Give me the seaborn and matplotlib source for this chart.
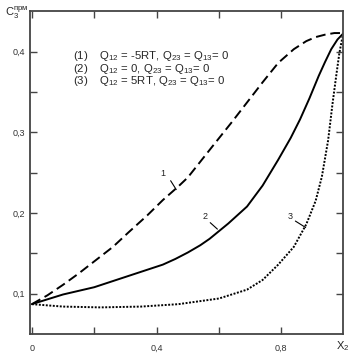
import matplotlib
matplotlib.use("Agg")
import matplotlib.pyplot as plt
import seaborn as sns
import pandas as pd

# curve 1: Q12 = -5RT
x1 = [0, 0.05, 0.1, 0.15, 0.2, 0.26, 0.31, 0.37, 0.42, 0.47, 0.5, 0.58, 0.64, 0.69, 0.74, 0.79, 0.84, 0.88, 0.91, 0.94, 0.97, 1.0]
y1 = [0.087, 0.098, 0.111, 0.125, 0.140, 0.158, 0.176, 0.197, 0.216, 0.233, 0.244, 0.283, 0.312, 0.337, 0.362, 0.386, 0.403, 0.413, 0.418, 0.421, 0.423, 0.423]
# curve 2: Q12 = 0
x2 = [0, 0.1, 0.2, 0.31, 0.42, 0.46, 0.5, 0.54, 0.57, 0.63, 0.69, 0.74, 0.79, 0.83, 0.86, 0.89, 0.92, 0.94, 0.96, 0.98, 1.0]
y2 = [0.087, 0.099, 0.108, 0.122, 0.136, 0.143, 0.151, 0.160, 0.168, 0.187, 0.208, 0.234, 0.266, 0.293, 0.316, 0.342, 0.370, 0.387, 0.403, 0.415, 0.423]
# curve 3: Q12 = 5RT
x3 = [0, 0.1, 0.22, 0.35, 0.47, 0.6, 0.69, 0.74, 0.79, 0.84, 0.88, 0.91, 0.93, 0.95, 0.964, 0.976, 0.986, 0.994, 1.0]
y3 = [0.087, 0.084, 0.083, 0.084, 0.087, 0.094, 0.105, 0.117, 0.136, 0.158, 0.186, 0.215, 0.245, 0.290, 0.335, 0.370, 0.398, 0.414, 0.423]

legend_lines = [
    r"(1)    Q$_{12}$ = -5RT, Q$_{23}$ = Q$_{13}$= 0",
    r"(2)    Q$_{12}$ = 0, Q$_{23}$ = Q$_{13}$= 0",
    r"(3)    Q$_{12}$ = 5RT, Q$_{23}$ = Q$_{13}$= 0",
]
curve_labels = ["1", "2", "3"]

sns.set_style("ticks")
plt.rcParams['font.family'] = ['Liberation Sans', 'DejaVu Sans']
plt.rcParams['mathtext.fontset'] = 'custom'
plt.rcParams['mathtext.rm'] = 'Liberation Sans'
plt.rcParams['mathtext.it'] = 'Liberation Sans'

fig = plt.figure(figsize=(3.57, 3.59), dpi=100)
ax = fig.add_axes([0.084, 0.0696, 0.877, 0.899])

styles = [(0, (5, 2.5)), '-', (0, (1, 0.8))]
for xs, ys, ls in zip([x1, x2, x3], [y1, y2, y3], styles):
    df = pd.DataFrame({'x': xs, 'y': ys})
    sns.lineplot(data=df, x='x', y='y', ax=ax, color='black', lw=1.4,
                 linestyle=ls, sort=False, estimator=None)

ax.set_xlim(-0.006, 0.998)
ax.set_ylim(0.05, 0.45)
ax.set_xticks([0, 0.4, 0.8])
ax.set_xticklabels(["0", "0,4", "0,8"])
ax.set_xticks([0.2, 0.6], minor=True)
ax.set_yticks([0.1, 0.2, 0.3, 0.4])
ax.set_yticklabels(["0,1", "0,2", "0,3", "0,4"])
ax.set_yticks([0.15, 0.25, 0.35], minor=True)
ax.tick_params(which='both', direction='in', top=True, right=True, length=5,
               width=1, color='#444444', labelsize=6.5, labelcolor='#333333')
ax.tick_params(axis='x', pad=7)
ax.set_xlabel("")
ax.set_ylabel("")
for s in ax.spines.values():
    s.set_linewidth(1.3)
    s.set_color('#444444')

# legend text block
for i, t in enumerate(legend_lines):
    ax.text(0.131, 0.395 - i * 0.016, t, fontsize=8.2, va='center', ha='left')

# curve number labels with leader lines
lab_pos = [(0.42, 0.249), (0.555, 0.196), (0.828, 0.196)]
lead = [((0.445, 0.240), (0.463, 0.229)), ((0.572, 0.188), (0.595, 0.180)), ((0.845, 0.190), (0.878, 0.182))]
for t, (lx, ly), (p0, p1) in zip(curve_labels, lab_pos, lead):
    ax.text(lx, ly, t, fontsize=6.5, ha='center', va='center', color='#222222')
    ax.plot([p0[0], p1[0]], [p0[1], p1[1]], color='black', lw=0.8)

fig.text(5 / 357, 1 - 13 / 359, r"C$_3^{\mathrm{прм}}$", fontsize=8, ha='left', va='center')
fig.text(343 / 357, 1 - 346 / 359, r"X$_2$", fontsize=8, ha='center', va='center')

fig.savefig("out.png", dpi=100)
